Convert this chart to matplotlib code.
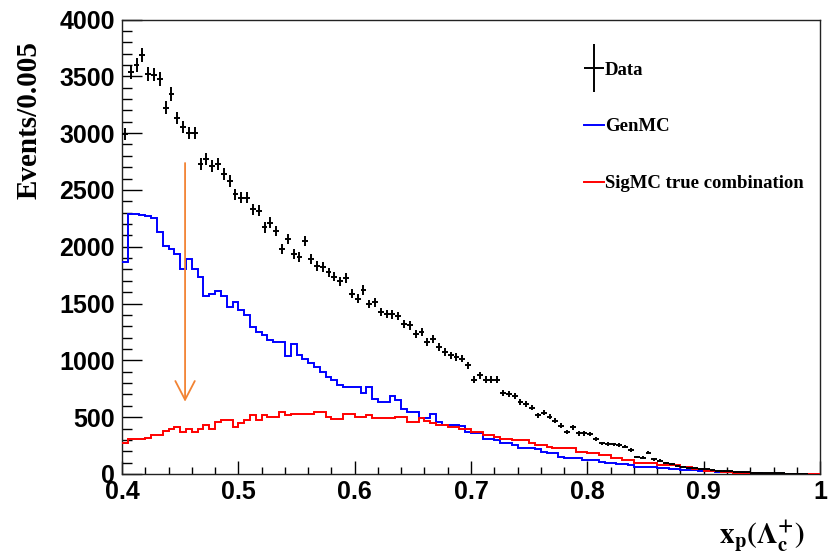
import numpy as np
import matplotlib
matplotlib.use("Agg")
import matplotlib.pyplot as plt
import matplotlib.ticker as ticker
from matplotlib.container import ErrorbarContainer
from matplotlib.legend_handler import HandlerErrorbar

# ── binning: x_p from 0.4 to 1.0, 0.005 per bin ───────────────────────────────
X_LO, X_HI, BIN_W = 0.4, 1.0, 0.005
edges = np.linspace(X_LO, X_HI, 121)
centers = 0.5 * (edges[:-1] + edges[1:])

# ── Data (events per bin) ─────────────────────────────────────────────────────
data = [
    2990, 3535, 3600, 3690, 3520, 3515, 3476, 3222, 3345, 3134,
    3053, 3003, 3003, 2725, 2769, 2711, 2725, 2638, 2579, 2462,
    2433, 2433, 2331, 2316, 2170, 2213, 2140, 1980, 2067, 1936,
    1912, 2053, 1892, 1833, 1819, 1775, 1737, 1696, 1725, 1585,
    1541, 1620, 1497, 1512, 1424, 1410, 1404, 1389, 1322, 1307,
    1234, 1248, 1161, 1190, 1117, 1073, 1044, 1029, 1015, 956,
    830, 868, 830, 830, 830, 713, 707, 684, 634, 614,
    585, 517, 538, 503, 470, 424, 371, 410, 357, 357,
    351, 304, 269, 263, 260, 254, 240, 210, 150, 143,
    187, 129, 117, 99, 85, 70, 62, 56, 50, 45,
    40, 34, 30, 26, 22, 20, 17, 14, 12, 10,
    9, 8, 6, 5, 4, 3, 2, 1, 0, 0,
]

# ── GenMC ─────────────────────────────────────────────────────────────────────
genmc = [
    1870, 2287, 2287, 2280, 2270, 2257, 2126, 2009, 1980, 1936,
    1805, 1892, 1805, 1731, 1570, 1585, 1608, 1570, 1468, 1512,
    1439, 1395, 1292, 1248, 1219, 1175, 1160, 1165, 1035, 1140,
    1044, 1015, 980, 941, 897, 853, 825, 781, 766, 766,
    766, 713, 766, 664, 634, 634, 684, 649, 576, 547,
    547, 489, 489, 532, 459, 430, 435, 430, 425, 371,
    365, 360, 312, 312, 298, 269, 269, 254, 225, 225,
    225, 216, 196, 181, 181, 152, 138, 138, 138, 123,
    123, 120, 105, 100, 94, 88, 85, 80, 64, 64,
    64, 60, 50, 50, 48, 45, 35, 35, 33, 30,
    29, 28, 20, 20, 20, 18, 15, 12, 10, 5,
    3, 2, 1, 0, 0, 0, 0, 0, 0, 0,
]

# ── SigMC true combination ────────────────────────────────────────────────────
sigmc = [
    270, 304, 304, 310, 318, 342, 340, 380, 395, 415,
    371, 395, 371, 400, 430, 395, 459, 475, 475, 415,
    450, 475, 518, 475, 518, 504, 504, 547, 520, 532,
    532, 526, 526, 547, 547, 503, 480, 480, 526, 526,
    503, 503, 515, 489, 489, 489, 489, 503, 503, 459,
    459, 489, 470, 445, 430, 430, 415, 410, 400, 400,
    371, 371, 342, 342, 327, 312, 312, 298, 298, 298,
    269, 254, 254, 240, 225, 225, 225, 225, 196, 196,
    181, 181, 167, 167, 138, 138, 123, 123, 99, 99,
    99, 99, 79, 79, 79, 79, 59, 59, 41, 41,
    29, 29, 29, 20, 15, 12, 10, 8, 6, 4,
    2, 1, 0, 0, 0, 0, 0, 0, 0, 0,
]

ARROW_X = 0.4542
ARROW_Y = (2737, 636)

plt.rcParams["font.family"] = ["Liberation Sans", "DejaVu Sans"]
plt.rcParams["mathtext.fontset"] = "stix"

fig = plt.figure(figsize=(8.3, 5.56), dpi=100)
ax = fig.add_axes([0.147, 0.1475, 0.841, 0.8174])

# ── histograms ────────────────────────────────────────────────────────────────
h_gen = ax.stairs(genmc, edges, baseline=None, color="#0000ff", linewidth=1.4,
                  label="GenMC", zorder=3)
h_sig = ax.stairs(sigmc, edges, baseline=None, color="#ff0000", linewidth=1.4,
                  label="SigMC true combination", zorder=3)

d = np.array(data, dtype=float)
m = d > 0
eb = ax.errorbar(centers[m], d[m], xerr=BIN_W / 2, yerr=np.sqrt(d[m]),
                 fmt="none", ecolor="black", elinewidth=1.4, capsize=0,
                 label="Data", zorder=4)

# ── orange arrow ──────────────────────────────────────────────────────────────
ax.annotate("", xy=(ARROW_X, ARROW_Y[1]), xytext=(ARROW_X, ARROW_Y[0]),
            arrowprops=dict(arrowstyle="->,head_length=1.35,head_width=0.7",
                            color="#f28333", lw=1.3, shrinkA=0, shrinkB=0),
            zorder=5)

# ── axes ──────────────────────────────────────────────────────────────────────
ax.set_xlim(X_LO, X_HI)
ax.set_ylim(0, 4000)
ax.xaxis.set_major_locator(ticker.MultipleLocator(0.1))
ax.xaxis.set_minor_locator(ticker.MultipleLocator(0.02))
ax.yaxis.set_major_locator(ticker.MultipleLocator(500))
ax.yaxis.set_minor_locator(ticker.MultipleLocator(100))
ax.xaxis.set_major_formatter(ticker.FuncFormatter(
    lambda v, p: "1" if abs(v - 1) < 1e-9 else f"{v:.1f}"))

ax.tick_params(axis="y", which="major", direction="in", length=14.4, width=1.0,
               labelsize=18, pad=5)
ax.tick_params(axis="y", which="minor", direction="in", length=7.2, width=1.0)
ax.tick_params(axis="x", which="major", direction="in", length=9.5, width=1.0,
               labelsize=18, pad=4)
ax.tick_params(axis="x", which="minor", direction="in", length=5.0, width=1.0)
for lab in ax.get_xticklabels() + ax.get_yticklabels():
    lab.set_fontweight("bold")
for sp in ax.spines.values():
    sp.set_linewidth(1.0)
    sp.set_color("#222222")

# ── axis titles ───────────────────────────────────────────────────────────────
fig.text(0.035, 0.785, "Events/0.005", rotation=90, ha="center", va="center",
         fontsize=21, fontweight="bold", family="Liberation Serif")
fig.text(0.918, 0.035, r"$\mathbf{x_{p}(\Lambda_{c}^{+})}$", ha="center",
         va="center", fontsize=21)

# ── legend ────────────────────────────────────────────────────────────────────
leg = ax.legend(
    handles=[eb, h_gen, h_sig],
    loc="upper left", bbox_to_anchor=(0.638, 0.945), frameon=False,
    prop={"family": "Liberation Serif", "weight": "bold", "size": 13.5},
    handlelength=1.05, handletextpad=0.05, labelspacing=2.12,
    handler_map={ErrorbarContainer: HandlerErrorbar(xerr_size=0.55, yerr_size=1.3)},
)

fig.savefig("out.png", dpi=100)
plt.close(fig)
